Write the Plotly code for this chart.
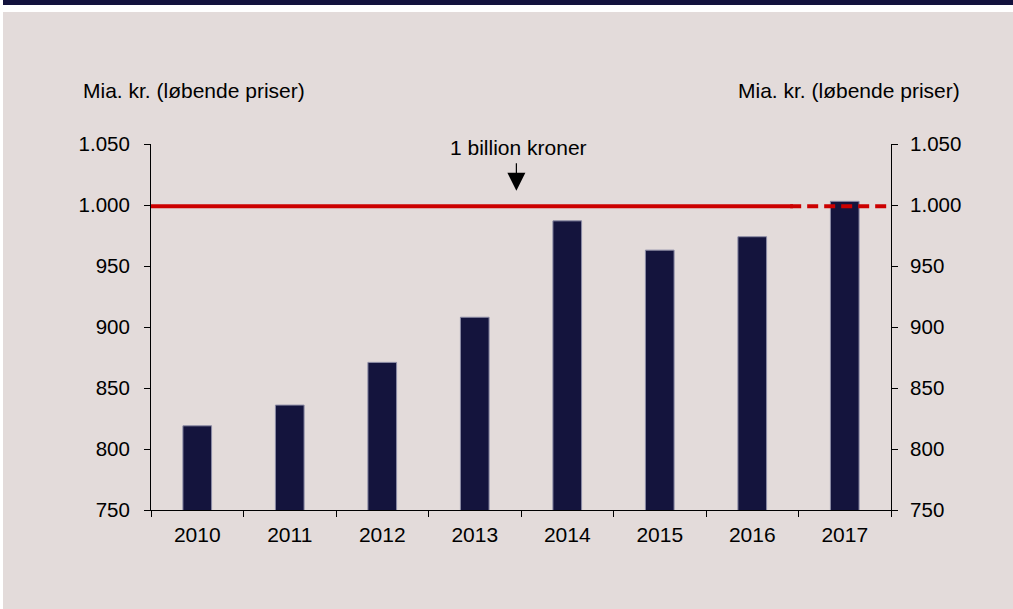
import plotly.graph_objects as go

years = ["2010", "2011", "2012", "2013", "2014", "2015", "2016", "2017"]
values = [819, 836, 871, 908, 987, 963, 974, 1003]
threshold = 999
y_ticks = [750, 800, 850, 900, 950, 1000, 1050]
axis_title = "Mia. kr. (løbende priser)"
note = "1 billion kroner"

xpos = list(range(len(years)))
FONT = "Liberation Sans, Arial, sans-serif"
BG = "#E3DBDA"
NAVY = "#14143D"
RED = "#CC0000"

fig = go.Figure()
fig.add_trace(go.Bar(
    x=xpos, y=values, width=0.31,
    marker=dict(color=NAVY, line=dict(color="#8C8CA6", width=1)),
    hoverinfo="x+y", showlegend=False,
))
# solid threshold line
fig.add_trace(go.Scatter(
    x=[-0.5, 6.44], y=[threshold, threshold], mode="lines",
    line=dict(color=RED, width=4), showlegend=False,
))
# dashed continuation
fig.add_trace(go.Scatter(
    x=[6.41, 7.46], y=[threshold, threshold], mode="lines",
    line=dict(color=RED, width=4, dash="11px,6px"), showlegend=False,
    yaxis="y2",
))

ytick_font = dict(family=FONT, size=20.5, color="#000000")
text_font = dict(family=FONT, size=21, color="#000000")

fig.update_layout(
    width=1013, height=609,
    margin=dict(l=151, r=122, t=144, b=99),
    paper_bgcolor=BG, plot_bgcolor="rgba(0,0,0,0)",
    separators=",.",
    showlegend=False,
    font=text_font,
    xaxis=dict(
        range=[-0.5, 7.5], tickmode="array", tickvals=xpos, ticktext=years,
        ticks="", showline=True, linecolor="#000000", linewidth=1,
        showgrid=False, zeroline=False, tickfont=text_font,
        minor=dict(tickmode="array", tickvals=[i - 0.5 for i in range(len(years) + 1)],
                   ticks="outside", ticklen=6, tickwidth=1, tickcolor="#000000",
                   showgrid=False),
        ticklabelstandoff=6,
    ),
    yaxis=dict(
        range=[750, 1050], tickmode="array", tickvals=y_ticks, tickformat=",",
        ticks="outside", ticklen=6, tickwidth=1, tickcolor="#000000",
        showline=True, linecolor="#000000", linewidth=1,
        showgrid=False, zeroline=False, tickfont=ytick_font,
        ticklabelstandoff=10,
    ),
    yaxis2=dict(
        range=[750, 1050], tickmode="array", tickvals=y_ticks, tickformat=",",
        overlaying="y", side="right", matches="y",
        ticks="outside", ticklen=6, tickwidth=1, tickcolor="#000000",
        showline=True, linecolor="#000000", linewidth=1,
        showgrid=False, zeroline=False, tickfont=ytick_font,
        ticklabelstandoff=8,
    ),
)

# white frame strip and dark top band (paper coordinates)
pw, ph = 740.0, 366.0
def px_x(p):
    return (p - 151) / pw
def px_y(p):
    return (510 - p) / ph

fig.add_shape(type="rect", xref="paper", yref="paper",
              x0=px_x(-5), x1=px_x(1020), y0=px_y(12), y1=px_y(-5),
              fillcolor="#FFFFFF", line=dict(width=0), layer="below")
fig.add_shape(type="rect", xref="paper", yref="paper",
              x0=px_x(-5), x1=px_x(3), y0=px_y(620), y1=px_y(-5),
              fillcolor="#FFFFFF", line=dict(width=0), layer="below")
fig.add_shape(type="rect", xref="paper", yref="paper",
              x0=px_x(3), x1=px_x(1020), y0=px_y(5), y1=px_y(-5),
              fillcolor="#13123D", line=dict(width=0), layer="below")

fig.add_annotation(text=axis_title, xref="paper", yref="paper",
                   x=px_x(81), y=px_y(91), xanchor="left", yanchor="middle",
                   showarrow=False, font=text_font)
fig.add_annotation(text=axis_title, xref="paper", yref="paper",
                   x=px_x(962), y=px_y(91), xanchor="right", yanchor="middle",
                   showarrow=False, font=text_font)
fig.add_annotation(text=note, xref="x", yref="y", x=3.47, y=1047.5,
                   xanchor="center", yanchor="middle", showarrow=False, font=text_font)
fig.add_annotation(text="", xref="x", yref="y", x=3.45, y=1011.7,
                   showarrow=True, ax=0, ay=-29, arrowhead=2, arrowsize=3,
                   arrowwidth=1.2, arrowcolor="#000000", standoff=0)

page_bg = ("linear-gradient(to bottom, #13123D 0px, #13123D 5px, #FFFFFF 5px, "
           "#FFFFFF 12px, #E3DBDA 12px, #E3DBDA 100%)")
fig.write_html(
    "out.html",
    config={"displayModeBar": False},
    post_script=("document.body.style.margin='0';document.body.style.padding='0';"
                 "document.body.style.overflow='hidden';"
                 "document.documentElement.style.overflow='hidden';"
                 "document.documentElement.style.background='" + page_bg + "';"
                 "document.documentElement.style.minHeight='100%';"),
)
